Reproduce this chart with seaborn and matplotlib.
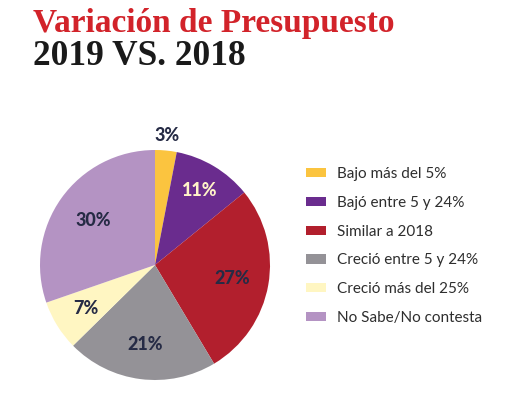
import matplotlib
matplotlib.use("Agg")
import matplotlib.pyplot as plt
import seaborn as sns
import numpy as np
from matplotlib.patches import Patch

categories = ["Bajo más del 5%", "Bajó entre 5 y 24%", "Similar a 2018",
              "Creció entre 5 y 24%", "Creció más del 25%", "No Sabe/No contesta"]
values = [3, 11, 27, 21, 7, 30]
colors = ["#FBC43F", "#6A2C8E", "#B21F2D", "#949297", "#FFF6C2", "#B493C3"]
label_colors = ["#262B45", "#FFF3C8", "#262B45", "#262B45", "#262B45", "#262B45"]
label_dist = [1.13, 0.76, 0.68, 0.70, 0.71, 0.66]

sns.set_theme(style="white")
plt.rcParams['font.family'] = ['Lato', 'DejaVu Sans']

fig = plt.figure(figsize=(5.21, 4.0), dpi=100)
fig.patch.set_facecolor("white")

ax = fig.add_axes([40/521, 20/400, 230/521, 230/400])
wedges, _ = ax.pie(values, colors=colors, startangle=90, counterclock=False,
                   radius=1.0, wedgeprops=dict(linewidth=0))
ax.set_xlim(-1, 1)
ax.set_ylim(-1, 1)
ax.set_aspect("equal")
ax.axis("off")

total = sum(values)
cum = 0
for v, c, d in zip(values, label_colors, label_dist):
    mid = 90 - (cum + v / 2) / total * 360
    cum += v
    x = d * np.cos(np.radians(mid))
    y = d * np.sin(np.radians(mid))
    ax.text(x, y, f"{v}%", ha="center", va="center", fontsize=13,
            fontweight="black", color=c)

handles = [Patch(facecolor=c, edgecolor="none") for c in colors]
fig.legend(handles, categories, loc="upper left",
           bbox_to_anchor=(306/521, 1 - 167/400), frameon=False,
           fontsize=11, handlelength=1.3, handleheight=0.55,
           handletextpad=0.75, labelspacing=0.97, borderpad=0,
           borderaxespad=0, labelcolor="#2E2E2E")

fig.text(33/521, 1 - 32/400, "Variación de Presupuesto", fontsize=24,
         fontweight="bold", color="#D2232A", family="Liberation Serif",
         va="baseline", ha="left")
fig.text(33/521, 1 - 65/400, "2019 VS. 2018", fontsize=25.5,
         fontweight="bold", color="#1A1A1A", family="Liberation Serif",
         va="baseline", ha="left")

fig.savefig("out.png", dpi=100, facecolor="white")
